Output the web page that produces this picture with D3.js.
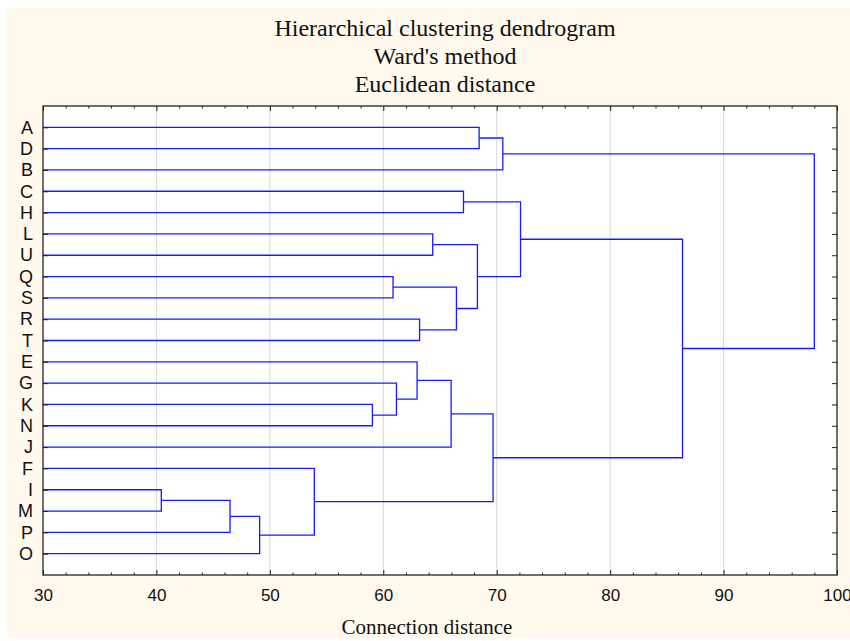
<!DOCTYPE html>
<html><head><meta charset="utf-8">
<script src="https://cdn.jsdelivr.net/npm/d3@7"></script>
<style>body{margin:0;background:#fff}svg{display:block}</style>
</head><body>
<script>
// ---- data ----
const titleLines = ["Hierarchical clustering dendrogram", "Ward's method", "Euclidean distance"];
const xLabel = "Connection distance";
const leaves = ["A","D","B","C","H","L","U","Q","S","R","T","E","G","K","N","J","F","I","M","P","O"];
const mergeLeft  = ["A","AD","C","L","Q","R","QS","LU","CH","K","G","E","EGKN","I","IM","IMP","F","EGKNJ","CHLUQSRT","ADB"];
const mergeRight = ["D","B","H","U","S","T","RT","QSRT","LUQSRT","N","KN","GKN","J","M","P","O","IMPO","FIMPO","EGKNJFIMPO","CHLUQSRTEGKNJFIMPO"];
const mergeHeight = [68.45,70.54,67.07,64.36,60.86,63.2,66.45,68.3,72.1,59.04,61.16,62.98,65.98,40.43,46.49,49.1,53.92,69.68,86.38,98.0];
const xTicks = [30,40,50,60,70,80,90,100];
const xDomain = [30,100];

// ---- layout ----
const W = 850, H = 641;
const m = {left:43, top:106, right:837, bottom:575};
const svg = d3.select("body").append("svg").attr("width", W).attr("height", H);
svg.append("rect").attr("x",7).attr("y",8).attr("width",W-7).attr("height",630).attr("fill","#fff9ee");
svg.append("rect").attr("x",m.left).attr("y",m.top).attr("width",m.right-m.left).attr("height",m.bottom-m.top).attr("fill","#fff");

const x = d3.scaleLinear().domain(xDomain).range([m.left, m.right]);
const y = d3.scalePoint().domain(leaves).range([m.top, m.bottom]).padding(1);

// grid
svg.append("g").selectAll("line").data(xTicks.slice(1,-1)).join("line")
  .attr("x1",d=>x(d)).attr("x2",d=>x(d)).attr("y1",m.top).attr("y2",m.bottom)
  .attr("stroke","#dcdcdc").attr("stroke-width",1.2);

// nodes
const node = {};
leaves.forEach(l => node[l] = {h: xDomain[0], y: y(l)});
const links = [];
mergeLeft.forEach((a,i) => {
  const b = mergeRight[i], h = mergeHeight[i];
  const A = node[a], B = node[b];
  links.push({A, B, h});
  node[a+b] = {h, y:(A.y+B.y)/2};
});
svg.append("g").selectAll("path").data(links).join("path")
  .attr("d", d => `M${x(d.A.h)},${d.A.y}H${x(d.h)}V${d.B.y}H${x(d.B.h)}`)
  .attr("fill","none").attr("stroke","#1a1aff").attr("stroke-width",1.3);

// axes
const minor = d3.range(30,100.01,2);
function styleAxis(g){ g.select(".domain").remove(); g.selectAll("line").attr("stroke","#222"); }
const bot = svg.append("g").attr("transform",`translate(0,${m.bottom})`)
  .call(d3.axisBottom(x).tickValues(xTicks).tickSize(-5).tickPadding(14).tickFormat(d3.format("d")));
styleAxis(bot);
bot.selectAll("text").attr("font-family","Liberation Sans, Arial").attr("font-size",17).attr("fill","#111");
svg.append("g").attr("transform",`translate(0,${m.bottom})`)
  .call(d3.axisBottom(x).tickValues(minor.filter(v=>v%10)).tickSize(-2.5).tickFormat(""))
  .call(styleAxis);
svg.append("g").attr("transform",`translate(0,${m.top})`)
  .call(d3.axisTop(x).tickValues(xTicks).tickSize(-5).tickFormat("")).call(styleAxis);
svg.append("g").attr("transform",`translate(0,${m.top})`)
  .call(d3.axisTop(x).tickValues(minor.filter(v=>v%10)).tickSize(-2.5).tickFormat("")).call(styleAxis);

const left = svg.append("g").attr("transform",`translate(${m.left},0)`)
  .call(d3.axisLeft(y).tickSize(-5).tickPadding(10));
styleAxis(left);
left.selectAll("text").attr("font-family","Liberation Sans, Arial").attr("font-size",18).attr("fill","#111");
svg.append("g").attr("transform",`translate(${m.right},0)`)
  .call(d3.axisRight(y).tickSize(-5).tickFormat("")).call(styleAxis);

// frame
svg.append("rect").attr("x",m.left).attr("y",m.top).attr("width",m.right-m.left).attr("height",m.bottom-m.top)
  .attr("fill","none").attr("stroke","#222").attr("stroke-width",1.3);

// titles
svg.append("g").selectAll("text").data(titleLines).join("text")
  .attr("x",(m.left+m.right)/2+5).attr("y",(d,i)=>36+i*28).attr("text-anchor","middle")
  .attr("font-family","Liberation Serif, Times New Roman").attr("font-size",24).attr("fill","#111").text(d=>d);
svg.append("text").attr("x",427).attr("y",634).attr("text-anchor","middle")
  .attr("font-family","Liberation Serif, Times New Roman").attr("font-size",21).attr("fill","#111").text(xLabel);
</script>
</body></html>
